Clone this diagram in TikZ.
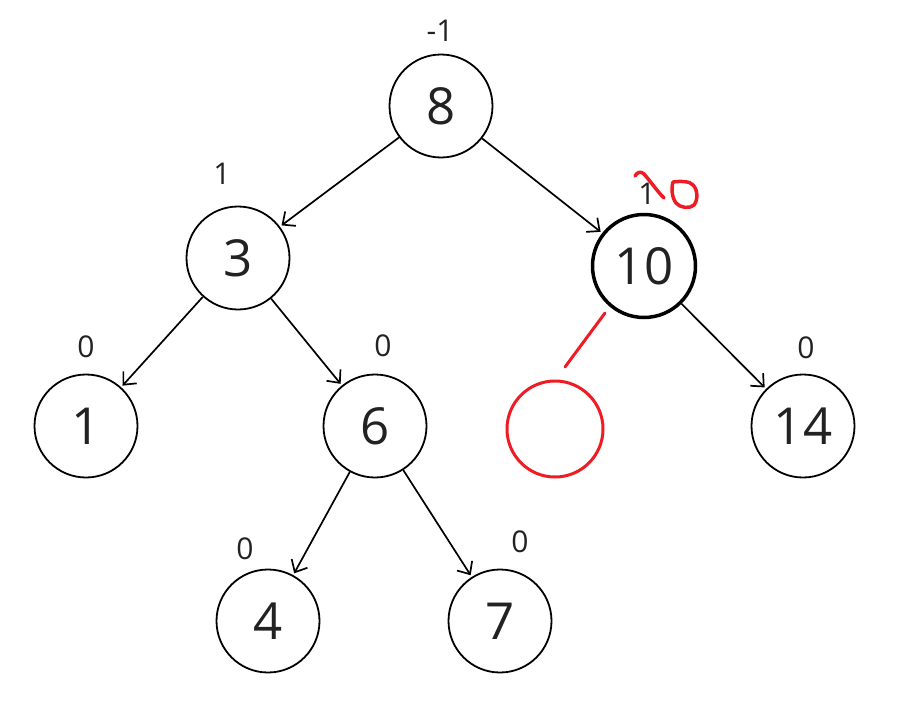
\documentclass[tikz,border=0pt]{standalone}
\usepackage{fontspec}
\setmainfont{Open Sans}
\usetikzlibrary{arrows.meta}
\definecolor{ink}{HTML}{222222}
\definecolor{pen}{HTML}{EE1C24}
\tikzset{
  tnode/.style={circle, draw=black, line width=1.8pt, minimum size=103pt, inner sep=0pt, text=ink, font=\fontsize{51}{51}\selectfont},
  bal/.style={text=ink, font=\fontsize{30}{30}\selectfont, inner sep=0pt},
  edge/.style={draw=black, line width=1.7pt, shorten >=2pt, -{Straight Barb[length=10pt,width=18pt,line width=1.7pt]}},
  redline/.style={draw=pen, line width=3pt, line cap=round, line join=round}
}
\begin{document}
\begin{tikzpicture}[x=1pt,y=-1pt]
\useasboundingbox (0,0) rectangle (897,704);
\node[tnode] (n8) at (441,106) {8};
\node[tnode] (n3) at (238,258) {3};
\node[tnode, line width=3.5pt] (n10) at (644,266) {10};
\node[tnode] (n1) at (86,426) {1};
\node[tnode] (n6) at (375,426) {6};
\node[tnode] (n14) at (803,426) {14};
\node[tnode] (n4) at (268,621) {4};
\node[tnode] (n7) at (500,621) {7};
\node[circle, draw=pen, line width=3pt, minimum size=96pt, inner sep=0pt] (nr) at (555,429) {};

\node[bal] (b8) at (440,31) {-1};
\node[bal] (b3) at (222,174) {1};
\node[bal] (b10) at (647,194) {1};
\node[bal] (b1) at (86,347) {0};
\node[bal] (b6) at (383,346) {0};
\node[bal] (b14) at (806,348) {0};
\node[bal] (b4) at (245,549) {0};
\node[bal] (b7) at (520,542) {0};

\draw[edge] (n8) -- (n3);
\draw[edge] (n8) -- (n10);
\draw[edge] (n3) -- (n1);
\draw[edge] (n3) -- (n6);
\draw[edge] (n10) -- (n14);
\draw[edge] (n6) -- (n4);
\draw[edge] (n6) -- (n7);

\coordinate (rs) at (605,313);
\coordinate (re) at (565,367);
\draw[redline] (rs) -- (re);
% handwritten red "10"
\draw[redline, line width=3.5pt] (635,176) .. controls (637,172) and (641,171) .. (644,174)
  .. controls (651,182) and (657,191) .. (664,198);
\draw[redline, line width=3.5pt] (673,182) .. controls (680,181) and (690,181) .. (693,185)
  .. controls (698,190) and (698,200) .. (694,205) .. controls (690,209) and (680,208) .. (676,203)
  .. controls (672,198) and (671,188) .. (673,182);
\end{tikzpicture}
\end{document}
